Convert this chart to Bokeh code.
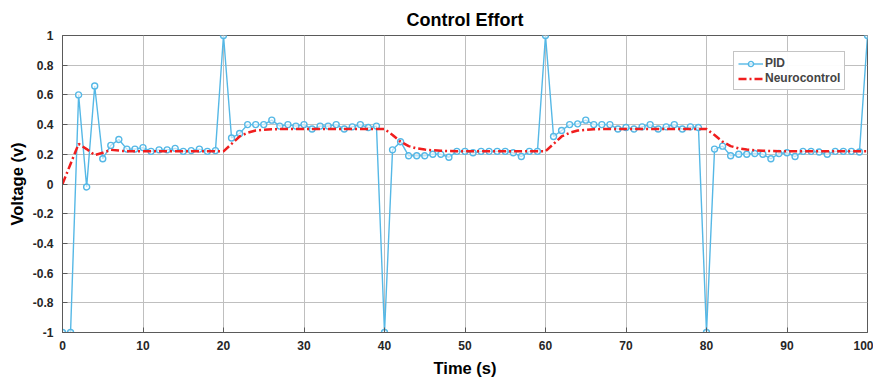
from bokeh.plotting import figure
from bokeh.models import Range1d, FixedTicker
from bokeh.embed import file_html
from bokeh.resources import INLINE

time_s = list(range(0, 101))

pid_voltage = [
    -1, -1, 0.60, -0.02, 0.66, 0.17, 0.26, 0.30, 0.235, 0.235,
    0.245, 0.22, 0.23, 0.23, 0.24, 0.22, 0.225, 0.235, 0.22, 0.225,
    1.0, 0.31, 0.34, 0.40, 0.40, 0.40, 0.43, 0.39, 0.40, 0.39,
    0.40, 0.37, 0.39, 0.39, 0.40, 0.37, 0.385, 0.40, 0.38, 0.39,
    -1, 0.23, 0.285, 0.19, 0.19, 0.19, 0.20, 0.20, 0.18, 0.22,
    0.22, 0.21, 0.22, 0.22, 0.22, 0.22, 0.21, 0.185, 0.22, 0.22,
    1.0, 0.32, 0.36, 0.40, 0.405, 0.43, 0.40, 0.40, 0.40, 0.37,
    0.38, 0.37, 0.385, 0.40, 0.37, 0.385, 0.40, 0.37, 0.385, 0.38,
    -1, 0.235, 0.255, 0.19, 0.20, 0.20, 0.205, 0.20, 0.17, 0.205,
    0.21, 0.185, 0.22, 0.22, 0.215, 0.20, 0.22, 0.22, 0.22, 0.215,
    1.0,
]

neuro_voltage = [
    0.0, 0.135, 0.27, 0.235, 0.195, 0.21, 0.23, 0.225, 0.22, 0.22,
    0.22, 0.22, 0.22, 0.22, 0.22, 0.22, 0.22, 0.22, 0.22, 0.22,
    0.22, 0.27, 0.32, 0.345, 0.36, 0.365, 0.368, 0.37, 0.37, 0.37,
    0.37, 0.37, 0.37, 0.37, 0.37, 0.37, 0.37, 0.37, 0.37, 0.37,
    0.37, 0.33, 0.285, 0.255, 0.24, 0.232, 0.227, 0.224, 0.222, 0.221,
    0.22, 0.22, 0.22, 0.22, 0.22, 0.22, 0.22, 0.22, 0.22, 0.22,
    0.22, 0.27, 0.32, 0.345, 0.36, 0.365, 0.368, 0.37, 0.37, 0.37,
    0.37, 0.37, 0.37, 0.37, 0.37, 0.37, 0.37, 0.37, 0.37, 0.37,
    0.37, 0.33, 0.285, 0.255, 0.24, 0.232, 0.227, 0.224, 0.222, 0.221,
    0.22, 0.22, 0.22, 0.22, 0.22, 0.22, 0.22, 0.22, 0.22, 0.22,
    0.22,
]

x_ticks = [0, 10, 20, 30, 40, 50, 60, 70, 80, 90, 100]
y_ticks = [-1, -0.8, -0.6, -0.4, -0.2, 0, 0.2, 0.4, 0.6, 0.8, 1]
y_tick_labels = ["-1", "-0.8", "-0.6", "-0.4", "-0.2", "0", "0.2", "0.4", "0.6", "0.8", "1"]

FONT = "Liberation Sans"
AXC = "#5a5a5a"

p = figure(width=873, height=380, output_backend="svg", toolbar_location=None,
           x_range=Range1d(0, 100), y_range=Range1d(-1, 1),
           title="Control Effort",
           min_border_left=62, min_border_right=6, min_border_top=35, min_border_bottom=48)

p.title.text_font = FONT
p.title.text_font_size = "18px"
p.title.text_font_style = "bold"
p.title.align = "center"
p.title.text_color = "#000000"
p.title.standoff = 12
p.title.text_line_height = 0.6

p.outline_line_color = AXC
p.outline_line_width = 1
p.background_fill_color = "white"
p.border_fill_color = "white"

xax = p.xaxis[0]
yax = p.yaxis[0]
xax.ticker = FixedTicker(ticks=x_ticks)
yax.ticker = FixedTicker(ticks=y_ticks)
yax.major_label_overrides = {t: l for t, l in zip(y_ticks, y_tick_labels)}

for ax in (xax, yax):
    ax.major_tick_in = 5
    ax.major_tick_out = 0
    ax.minor_tick_in = 0
    ax.minor_tick_out = 0
    ax.axis_line_color = AXC
    ax.major_tick_line_color = AXC
    ax.major_label_text_font = FONT
    ax.major_label_text_font_size = "12px"
    ax.major_label_text_font_style = "bold"
    ax.major_label_text_color = "#262626"
    ax.axis_label_text_font = FONT
    ax.axis_label_text_font_size = "16.5px"
    ax.axis_label_text_font_style = "bold"
    ax.axis_label_text_color = "#000000"

xax.axis_label = "Time (s)"
yax.axis_label = "Voltage (v)"
xax.major_label_standoff = 8
yax.major_label_standoff = 9
xax.axis_label_standoff = 6
yax.axis_label_standoff = 4

p.xgrid.ticker = FixedTicker(ticks=x_ticks)
p.ygrid.ticker = FixedTicker(ticks=y_ticks)
p.xgrid.grid_line_color = "#bfbfbf"
p.ygrid.grid_line_color = "#bfbfbf"
p.xgrid.grid_line_width = 1
p.ygrid.grid_line_width = 1

p.line(time_s, pid_voltage, color="#55b8e6", line_width=1.4, legend_label="PID")
p.scatter(time_s, pid_voltage, marker="circle", size=6, line_color="#55b8e6",
          line_width=1.4, fill_color="white", fill_alpha=0.6, legend_label="PID")
p.line(time_s, neuro_voltage, color="#f01e1e", line_width=2.5, line_dash="8 3 2 3",
       legend_label="Neurocontrol")

lg = p.legend[0]
lg.location = (671, 242)
lg.label_text_font = FONT
lg.label_text_font_size = "12px"
lg.label_text_font_style = "bold"
lg.label_height = 13
lg.glyph_height = 13
lg.glyph_width = 25
lg.label_standoff = 2
lg.spacing = 1
lg.padding = 4
lg.margin = 0
lg.border_line_color = "#8a8a8a"
lg.border_line_width = 1

open("out.html", "w").write(file_html(p, INLINE))
